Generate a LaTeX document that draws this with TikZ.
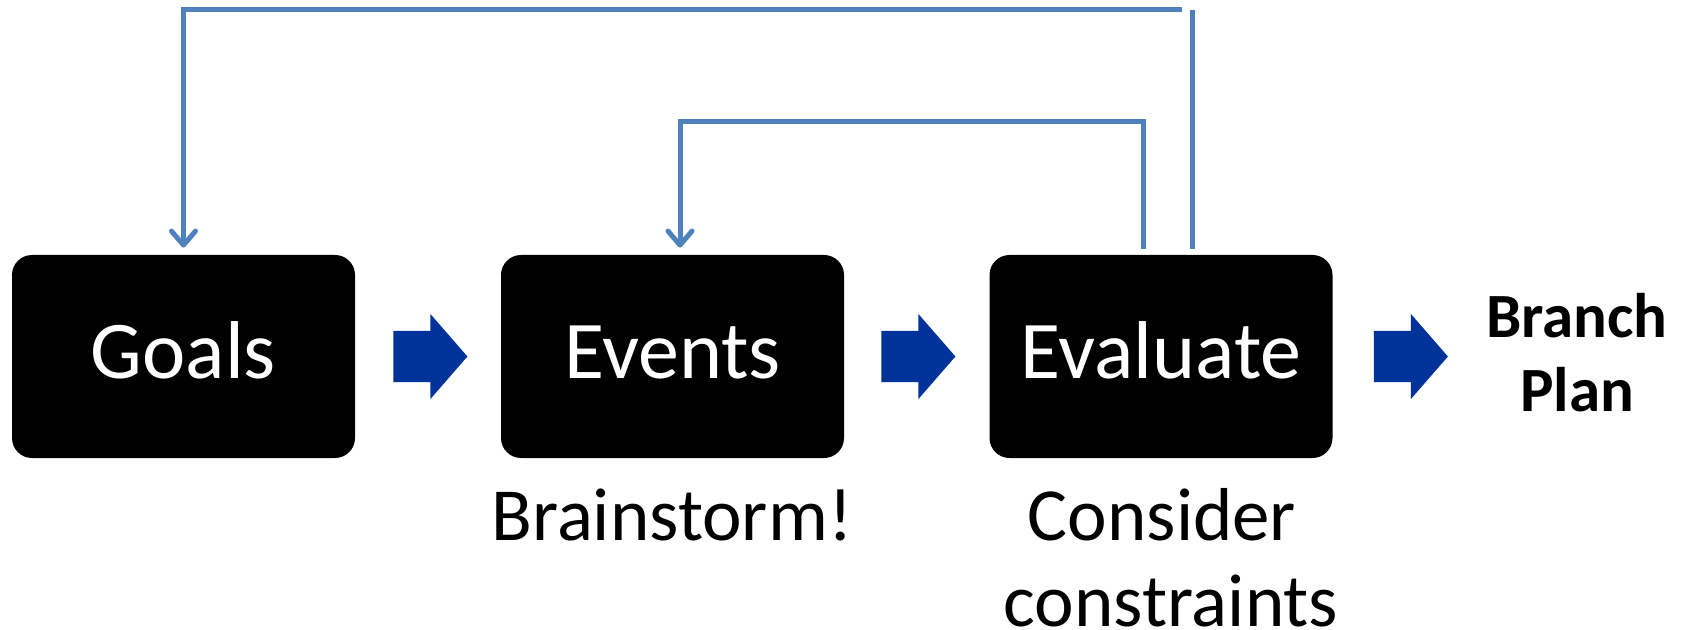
\documentclass[tikz,border=0pt]{standalone}
\usepackage{fontspec}
\setmainfont{Carlito}
\usetikzlibrary{calc,arrows.meta}
\definecolor{fbblue}{HTML}{4F81BD}
\definecolor{arrowblue}{HTML}{003399}
\tikzset{
  stagebox/.style={fill=black, rounded corners=10pt, inner sep=0pt,
    minimum width=171.5pt, minimum height=101.5pt,
    text=white, font=\fontsize{41}{48}\selectfont,
    text height=22pt, text depth=0pt},
  fb/.style={draw=fbblue, line width=2.5pt},
  fbarrow/.style={fb, -{Straight Barb[length=7pt,width=12pt,round]}},
  subtext/.style={anchor=base, inner sep=0pt, font=\fontsize{37.5}{44}\selectfont},
  endtext/.style={anchor=base, inner sep=0pt, font=\fontsize{31.5}{36}\selectfont\bfseries},
  blockarrow/.pic={\fill[arrowblue] (0,-25.5) -- (37,-25.5) -- (37,-42.5) -- (74,0) -- (37,42.5) -- (37,25.5) -- (0,25.5) -- cycle;}
}
\begin{document}
\begin{tikzpicture}[x=0.5pt,y=-0.5pt]
\useasboundingbox (0,0) rectangle (1685,630);
\node[stagebox] (goals) at (183.5,356.5) {Goals};
\node[stagebox] (events) at (672.5,356.5) {Events};
\node[stagebox] (evaluate) at (1161,356.5) {Evaluate};
\pic at ($(goals.east)+(38,0)$) {blockarrow};
\pic at ($(events.east)+(37,0)$) {blockarrow};
\pic at ($(evaluate.east)+(41,0)$) {blockarrow};
\node[endtext] (branch) at (1577,337) {Branch};
\node[endtext] (plan) at (1577,411) {Plan};
\node[subtext] (brain) at (672,540) {Brainstorm!};
\node[subtext] (cons1) at (1162,540) {Consider};
\node[subtext] (cons2) at (1171,626) {constraints};
% feedback loops
\coordinate (outerR) at ($(evaluate.north)+(31,-6)$);
\coordinate (innerR) at ($(evaluate.north)+(-18,-6)$);
\coordinate (goalsIn) at ($(goals.north)+(0,-7)$);
\coordinate (eventsIn) at ($(events.north)+(7.5,-7)$);
\coordinate (outerTopR) at (1182,10);
\draw[fb] (outerR) -- (outerR |- outerTopR);
\draw[fbarrow] (outerTopR) -- (goalsIn |- outerTopR) -- (goalsIn);
\draw[fbarrow] (innerR) -- ($(innerR)+(0,-127)$) coordinate (innerTop) -- (eventsIn |- innerTop) -- (eventsIn);
\end{tikzpicture}
\end{document}
